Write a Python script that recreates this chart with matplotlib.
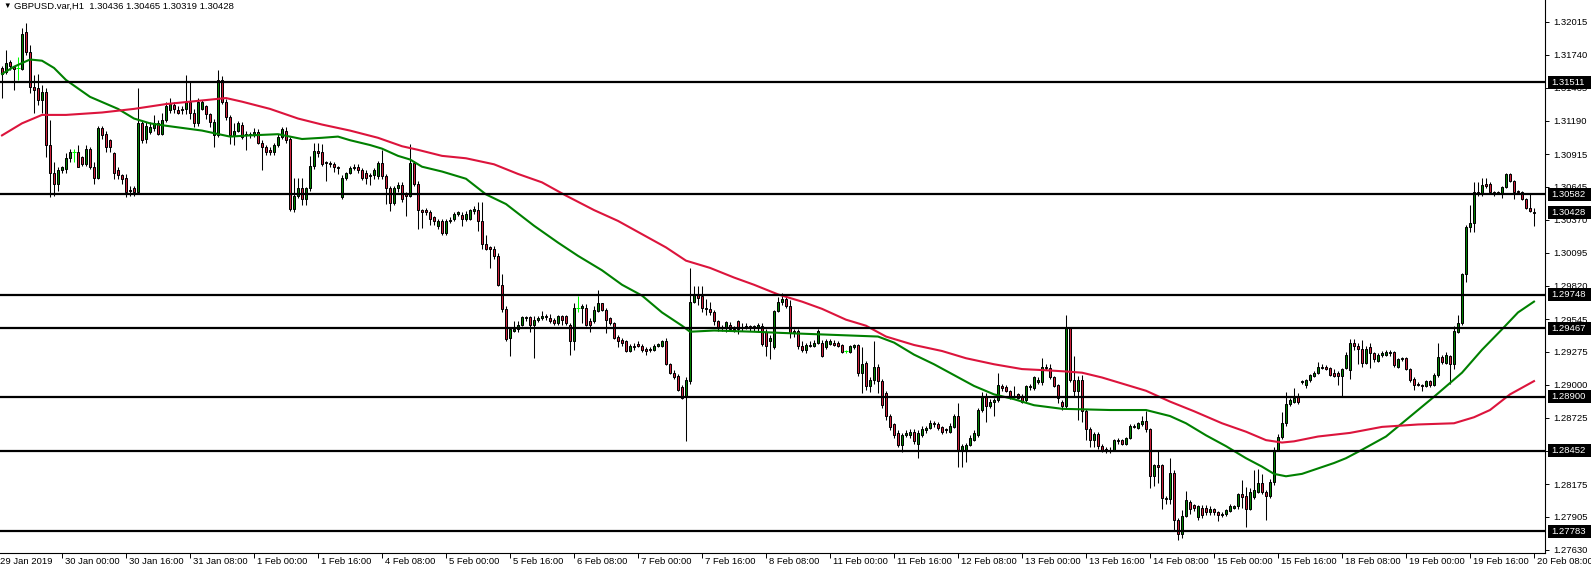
"""
GBPUSD H1 candles with two moving averages and horizontal levels (MT4 look).

python plot.py  ->  out.png
"""
import numpy as np
import matplotlib
matplotlib.use('Agg')
import matplotlib.pyplot as plt
from matplotlib import transforms
from matplotlib.patches import Rectangle

# prices in pips above 1.0000, i.e. price = 1 + p / 10000 (one row = 16 bars)
opens = [
    3163, 3160, 3168, 3164, 3163, 3162, 3193, 3176, 3147, 3146, 3136, 3143, 3099, 3076, 3067, 3078,
    3079, 3088, 3093, 3093, 3089, 3083, 3096, 3081, 3072, 3113, 3108, 3103, 3092, 3078, 3074, 3072,
    3062, 3063, 3060, 3117, 3104, 3110, 3113, 3117, 3108, 3120, 3128, 3132, 3128, 3128, 3129, 3135,
    3126, 3117, 3129, 3131, 3125, 3107, 3107, 3153, 3135, 3122, 3107, 3111, 3116, 3108, 3107, 3108,
    3110, 3101, 3097, 3095, 3093, 3099, 3106, 3111, 3104, 3046, 3057, 3063, 3054, 3063, 3082, 3094,
    3093, 3084, 3084, 3083, 3081, 3056, 3072, 3076, 3080, 3081, 3078, 3076, 3073, 3074, 3073, 3084,
    3073, 3063, 3051, 3063, 3066, 3058, 3057, 3084, 3067, 3045, 3045, 3043, 3039, 3032, 3036, 3026,
    3036, 3038, 3042, 3041, 3038, 3038, 3044, 3045, 3036, 3017, 3014, 3013, 3007, 2983, 2963, 2939,
    2945, 2946, 2950, 2955, 2956, 2950, 2954, 2955, 2957, 2955, 2954, 2951, 2957, 2957, 2950, 2936,
    2964, 2964, 2964, 2953, 2953, 2961, 2968, 2962, 2955, 2951, 2940, 2937, 2936, 2928, 2932, 2934,
    2932, 2930, 2929, 2929, 2932, 2932, 2936, 2917, 2910, 2907, 2898, 2890, 2903, 2969, 2975, 2974,
    2964, 2963, 2960, 2953, 2948, 2947, 2950, 2946, 2953, 2947, 2947, 2949, 2947, 2947, 2949, 2944,
    2936, 2931, 2961, 2969, 2971, 2965, 2943, 2945, 2932, 2929, 2933, 2932, 2935, 2935, 2931, 2934,
    2935, 2935, 2933, 2928, 2927, 2931, 2933, 2910, 2918, 2899, 2904, 2915, 2903, 2893, 2874, 2867,
    2860, 2850, 2858, 2858, 2861, 2851, 2858, 2862, 2864, 2868, 2867, 2865, 2862, 2861, 2865, 2874,
    2846, 2846, 2850, 2854, 2858, 2879, 2890, 2882, 2886, 2887, 2899, 2898, 2895, 2891, 2892, 2891,
    2887, 2898, 2897, 2902, 2902, 2915, 2914, 2906, 2900, 2886, 2882, 2947, 2904, 2895, 2904, 2878,
    2863, 2854, 2859, 2849, 2847, 2846, 2846, 2853, 2854, 2851, 2856, 2866, 2864, 2867, 2870, 2863,
    2824, 2833, 2833, 2806, 2805, 2827, 2788, 2776, 2791, 2803, 2800, 2790, 2798, 2798, 2794, 2797,
    2794, 2792, 2793, 2795, 2798, 2799, 2809, 2808, 2797, 2807, 2811, 2818, 2811, 2808, 2819, 2846,
    2857, 2868, 2884, 2886, 2890, 2902, 2900, 2904, 2907, 2910, 2914, 2915, 2914, 2910, 2910, 2907,
    2914, 2912, 2935, 2932, 2930, 2918, 2931, 2926, 2920, 2925, 2925, 2927, 2927, 2915, 2921, 2922,
    2913, 2905, 2900, 2900, 2899, 2903, 2900, 2908, 2923, 2918, 2924, 2917, 2944, 2951, 2992, 3031,
    3034, 3060, 3058, 3067, 3067, 3060, 3059, 3058, 3064, 3075, 3069, 3061, 3060, 3054, 3047, 3043.6,
]
highs = [
    3165, 3178, 3170, 3165, 3172, 3196, 3200, 3182, 3157, 3158, 3149, 3146, 3120, 3085, 3081, 3082,
    3092, 3096, 3096, 3099, 3090, 3099, 3097, 3085, 3115, 3115, 3111, 3104, 3093, 3081, 3075, 3075,
    3065, 3065, 3146, 3120, 3118, 3118, 3124, 3120, 3126, 3135, 3138, 3135, 3131, 3131, 3157, 3151,
    3129, 3138, 3136, 3132, 3126, 3121, 3161, 3156, 3137, 3124, 3117, 3119, 3118, 3111, 3110, 3113,
    3112, 3103, 3099, 3097, 3101, 3108, 3114, 3114, 3106, 3072, 3072, 3072, 3064, 3090, 3101, 3101,
    3100, 3086, 3086, 3085, 3082, 3074, 3077, 3082, 3083, 3083, 3080, 3078, 3076, 3080, 3086, 3095,
    3075, 3065, 3065, 3068, 3068, 3060, 3100, 3086, 3069, 3046, 3047, 3045, 3040, 3038, 3038, 3038,
    3039, 3043, 3044, 3043, 3044, 3046, 3048, 3052, 3052, 3024, 3015, 3015, 3009, 2992, 2965, 2948,
    2953, 2953, 2957, 2957, 2957, 2957, 2957, 2961, 2959, 2959, 2955, 2958, 2958, 2958, 2951, 2968,
    2974, 2967, 2967, 2955, 2965, 2979, 2968, 2964, 2956, 2952, 2941, 2939, 2937, 2934, 2935, 2936,
    2934, 2931, 2931, 2934, 2935, 2937, 2939, 2918, 2912, 2909, 2900, 2906, 2997, 2982, 2982, 2982,
    2971, 2969, 2962, 2954, 2950, 2953, 2952, 2949, 2954, 2951, 2951, 2950, 2950, 2951, 2951, 2946,
    2941, 2962, 2973, 2976, 2974, 2970, 2946, 2946, 2936, 2935, 2936, 2937, 2946, 2937, 2938, 2938,
    2937, 2936, 2934, 2929, 2933, 2934, 2934, 2931, 2920, 2906, 2936, 2917, 2905, 2895, 2876, 2868,
    2862, 2860, 2862, 2863, 2863, 2862, 2866, 2866, 2871, 2870, 2869, 2866, 2864, 2868, 2876, 2885,
    2851, 2852, 2858, 2862, 2881, 2894, 2893, 2888, 2889, 2910, 2901, 2900, 2896, 2899, 2893, 2892,
    2900, 2901, 2907, 2906, 2922, 2917, 2917, 2907, 2901, 2887, 2958, 2948, 2924, 2907, 2908, 2880,
    2865, 2861, 2861, 2851, 2848, 2848, 2855, 2856, 2855, 2857, 2867, 2867, 2869, 2874, 2878, 2864,
    2834, 2846, 2834, 2808, 2839, 2829, 2789, 2796, 2812, 2804, 2801, 2800, 2800, 2800, 2799, 2798,
    2795, 2794, 2797, 2801, 2800, 2810, 2821, 2815, 2814, 2829, 2830, 2826, 2813, 2822, 2848, 2859,
    2877, 2894, 2889, 2897, 2893, 2904, 2905, 2909, 2911, 2919, 2917, 2916, 2915, 2913, 2911, 2914,
    2927, 2938, 2938, 2935, 2937, 2932, 2935, 2927, 2926, 2928, 2929, 2929, 2928, 2922, 2923, 2923,
    2914, 2906, 2902, 2901, 2904, 2904, 2910, 2935, 2925, 2927, 2925, 2949, 2958, 2993, 3033, 3049,
    3068, 3068, 3072, 3072, 3068, 3061, 3061, 3065, 3076, 3076, 3070, 3062, 3061, 3055, 3058, 3046.5,
]
lows = [
    3138, 3158, 3161, 3145, 3153, 3161, 3174, 3142, 3126, 3132, 3126, 3089, 3056, 3057, 3061, 3076,
    3076, 3085, 3085, 3081, 3082, 3082, 3079, 3067, 3071, 3104, 3093, 3093, 3071, 3071, 3067, 3056,
    3057, 3057, 3058, 3101, 3101, 3108, 3111, 3107, 3107, 3118, 3126, 3126, 3125, 3125, 3125, 3121,
    3114, 3115, 3128, 3121, 3114, 3097, 3106, 3133, 3120, 3100, 3099, 3110, 3104, 3095, 3105, 3106,
    3100, 3078, 3091, 3091, 3091, 3097, 3104, 3101, 3044, 3043, 3055, 3049, 3049, 3061, 3079, 3089,
    3082, 3069, 3081, 3077, 3075, 3054, 3070, 3075, 3078, 3076, 3070, 3067, 3066, 3071, 3071, 3071,
    3050, 3044, 3049, 3060, 3052, 3040, 3056, 3065, 3029, 3030, 3041, 3033, 3033, 3029, 3024, 3024,
    3034, 3036, 3040, 3032, 3036, 3037, 3042, 3028, 3013, 3012, 2997, 3004, 2982, 2960, 2936, 2924,
    2944, 2944, 2949, 2953, 2944, 2922, 2952, 2954, 2954, 2951, 2950, 2950, 2950, 2950, 2925, 2929,
    2960, 2951, 2949, 2944, 2951, 2960, 2961, 2943, 2950, 2938, 2931, 2932, 2927, 2927, 2929, 2931,
    2927, 2925, 2927, 2928, 2931, 2931, 2916, 2909, 2905, 2895, 2888, 2853, 2901, 2968, 2966, 2960,
    2958, 2958, 2950, 2945, 2945, 2944, 2945, 2944, 2942, 2945, 2946, 2945, 2945, 2945, 2932, 2924,
    2921, 2930, 2960, 2966, 2964, 2939, 2940, 2930, 2927, 2926, 2931, 2931, 2934, 2923, 2930, 2933,
    2932, 2931, 2926, 2926, 2926, 2930, 2907, 2893, 2896, 2894, 2901, 2893, 2881, 2871, 2862, 2856,
    2848, 2844, 2857, 2856, 2851, 2839, 2857, 2860, 2863, 2865, 2862, 2859, 2860, 2860, 2864, 2832,
    2832, 2836, 2849, 2853, 2857, 2877, 2869, 2881, 2874, 2886, 2895, 2894, 2888, 2889, 2888, 2885,
    2886, 2896, 2896, 2901, 2900, 2912, 2905, 2898, 2885, 2879, 2880, 2902, 2890, 2871, 2869, 2854,
    2848, 2848, 2847, 2844, 2843, 2843, 2845, 2851, 2850, 2850, 2855, 2864, 2863, 2866, 2861, 2814,
    2816, 2818, 2797, 2801, 2801, 2779, 2771, 2773, 2790, 2793, 2795, 2788, 2789, 2792, 2792, 2792,
    2787, 2790, 2791, 2794, 2797, 2797, 2798, 2782, 2796, 2805, 2810, 2809, 2788, 2806, 2817, 2845,
    2855, 2866, 2882, 2885, 2884, 2901, 2897, 2902, 2906, 2909, 2913, 2912, 2907, 2906, 2900, 2890,
    2913, 2905, 2929, 2917, 2915, 2917, 2914, 2919, 2919, 2923, 2924, 2924, 2915, 2914, 2920, 2912,
    2902, 2896, 2899, 2895, 2898, 2898, 2899, 2906, 2917, 2917, 2901, 2913, 2943, 2950, 2985, 3027,
    3027, 3057, 3057, 3063, 3059, 3057, 3058, 3055, 3063, 3068, 3054, 3058, 3053, 3046, 3043, 3031.9,
]
closes = [
    3158, 3167, 3165, 3162, 3163, 3191, 3176, 3147, 3145, 3136, 3143, 3099, 3076, 3067, 3078, 3081,
    3088, 3093, 3093, 3081, 3083, 3096, 3081, 3072, 3113, 3107, 3097, 3097, 3076, 3074, 3071, 3060,
    3061, 3060, 3117, 3103, 3115, 3114, 3117, 3108, 3120, 3131, 3133, 3129, 3126, 3129, 3135, 3126,
    3117, 3135, 3135, 3125, 3118, 3118, 3153, 3135, 3122, 3107, 3111, 3117, 3106, 3107, 3108, 3110,
    3101, 3097, 3093, 3093, 3099, 3106, 3112, 3103, 3046, 3057, 3063, 3054, 3063, 3082, 3094, 3092,
    3083, 3085, 3083, 3081, 3080, 3072, 3076, 3080, 3081, 3078, 3072, 3072, 3074, 3078, 3084, 3073,
    3063, 3051, 3063, 3066, 3054, 3057, 3084, 3067, 3045, 3043, 3043, 3038, 3036, 3036, 3026, 3036,
    3037, 3042, 3043, 3038, 3042, 3045, 3046, 3036, 3017, 3013, 3013, 3007, 2983, 2963, 2938, 2946,
    2946, 2950, 2956, 2956, 2950, 2954, 2955, 2957, 2956, 2953, 2951, 2957, 2954, 2951, 2936, 2964,
    2964, 2965, 2950, 2950, 2962, 2968, 2962, 2954, 2951, 2939, 2936, 2935, 2928, 2932, 2931, 2932,
    2929, 2928, 2930, 2932, 2934, 2936, 2917, 2910, 2906, 2896, 2889, 2904, 2969, 2975, 2972, 2964,
    2963, 2960, 2953, 2947, 2947, 2952, 2946, 2945, 2946, 2948, 2949, 2947, 2949, 2950, 2934, 2932,
    2939, 2961, 2969, 2971, 2965, 2943, 2945, 2932, 2929, 2933, 2932, 2935, 2945, 2924, 2936, 2936,
    2933, 2932, 2927, 2928, 2932, 2933, 2910, 2917, 2899, 2904, 2915, 2903, 2883, 2874, 2865, 2858,
    2850, 2858, 2860, 2861, 2853, 2860, 2863, 2864, 2868, 2867, 2864, 2861, 2863, 2866, 2874, 2846,
    2849, 2850, 2856, 2860, 2879, 2890, 2882, 2886, 2887, 2900, 2897, 2895, 2889, 2890, 2889, 2886,
    2899, 2899, 2906, 2904, 2915, 2914, 2906, 2899, 2889, 2882, 2947, 2904, 2895, 2904, 2878, 2863,
    2854, 2859, 2849, 2846, 2845, 2845, 2854, 2854, 2851, 2856, 2866, 2865, 2868, 2870, 2863, 2824,
    2833, 2832, 2806, 2805, 2827, 2788, 2776, 2791, 2804, 2797, 2798, 2799, 2792, 2794, 2797, 2794,
    2792, 2793, 2796, 2799, 2799, 2809, 2807, 2797, 2811, 2813, 2818, 2811, 2808, 2819, 2846, 2857,
    2868, 2884, 2887, 2889, 2886, 2903, 2904, 2908, 2910, 2915, 2915, 2913, 2908, 2907, 2907, 2913,
    2925, 2935, 2932, 2930, 2918, 2930, 2926, 2921, 2925, 2926, 2927, 2926, 2916, 2921, 2922, 2913,
    2904, 2900, 2901, 2899, 2903, 2900, 2908, 2923, 2919, 2925, 2917, 2945, 2951, 2992, 3031, 3034,
    3060, 3058, 3066, 3065, 3060, 3058, 3060, 3064, 3075, 3069, 3060, 3060, 3054, 3047, 3044, 3042.8,
]

# moving averages at a few bars (same pip units)
fast_ma_bars = [0, 3, 7, 10, 13, 16, 22, 29, 33, 37, 41, 50, 57, 62, 69, 75, 80, 84, 87, 92,
                95, 99, 102, 105, 110, 116, 121, 126, 133, 139, 144, 150, 155, 160, 165, 170,
                172, 178, 188, 195, 203, 211, 219, 223, 228, 233, 238, 243, 248, 253, 258, 265,
                277, 286, 292, 296, 301, 306, 311, 315, 318, 321, 325, 333, 336, 340, 346, 350,
                358, 365, 370, 375, 379, 383]
fast_ma = [3158, 3164, 3170, 3169, 3163, 3153, 3139, 3129, 3121, 3117, 3115, 3111, 3106, 3107,
           3108, 3104, 3105, 3106, 3103, 3099, 3096, 3090, 3087, 3081, 3077, 3071, 3058, 3050,
           3032, 3018, 3007, 2995, 2983, 2974, 2960, 2949, 2944, 2945, 2944, 2943, 2942, 2941,
           2940, 2935, 2925, 2917, 2908, 2899, 2892, 2888, 2883, 2880, 2879, 2879, 2874, 2868,
           2858, 2849, 2839, 2832, 2826, 2824, 2826, 2835, 2839, 2846, 2857, 2868, 2890, 2910,
           2929, 2946, 2960, 2969]
slow_ma_bars = [0, 5, 10, 16, 25, 33, 41, 50, 56, 60, 67, 74, 80, 87, 94, 100, 104, 110, 116,
                123, 129, 135, 141, 148, 154, 160, 166, 171, 177, 183, 188, 194, 200, 205, 211,
                216, 221, 228, 235, 241, 248, 255, 261, 266, 270, 275, 281, 286, 292, 298, 305,
                311, 316, 320, 323, 329, 337, 345, 354, 363, 368, 372, 377, 383]
slow_ma = [3107, 3117, 3124, 3124, 3126, 3129, 3133, 3136, 3138, 3135, 3129, 3121, 3116, 3111,
           3105, 3098, 3095, 3090, 3088, 3083, 3075, 3068, 3057, 3045, 3036, 3025, 3014, 3003,
           2997, 2989, 2983, 2975, 2969, 2963, 2954, 2949, 2940, 2933, 2928, 2922, 2917, 2913,
           2912, 2911, 2910, 2906, 2900, 2895, 2886, 2878, 2868, 2861, 2854, 2852, 2853, 2857,
           2860, 2865, 2867, 2868, 2873, 2879, 2892, 2903]

levels = [1.31511, 1.30582, 1.29748, 1.29467, 1.28900, 1.28452, 1.27783]
last_price = 1.30428
price_ticks = [1.32015, 1.31740, 1.31465, 1.31190, 1.30915, 1.30645, 1.30370, 1.30095,
               1.29820, 1.29545, 1.29275, 1.29000, 1.28725, 1.28450, 1.28175, 1.27905, 1.27630]
first_label = '29 Jan 2019'
time_labels = ['30 Jan 00:00', '30 Jan 16:00', '31 Jan 08:00', '1 Feb 00:00', '1 Feb 16:00',
               '4 Feb 08:00', '5 Feb 00:00', '5 Feb 16:00', '6 Feb 08:00', '7 Feb 00:00',
               '7 Feb 16:00', '8 Feb 08:00', '11 Feb 00:00', '11 Feb 16:00', '12 Feb 08:00',
               '13 Feb 00:00', '13 Feb 16:00', '14 Feb 08:00', '15 Feb 00:00', '15 Feb 16:00',
               '18 Feb 08:00', '19 Feb 00:00', '19 Feb 16:00', '20 Feb 08:00']
title = 'GBPUSD.var,H1  1.30436 1.30465 1.30319 1.30428'

W, H = 1591, 570            # output size in px
PLOT_W, PLOT_H = 1545, 553  # chart area (px), price scale to the right
BULL, BEAR, DOJI = '#008000', '#cc1f3a', '#00ff00'
FAST_CLR, SLOW_CLR = '#008000', '#dc143c'
FS = 6.8


def to_price(p):
    return 1 + np.asarray(p, dtype=float) / 1e4


def draw_candles(ax):
    o, h, l, c = (to_price(a) for a in (opens, highs, lows, closes))
    assert len(o) == len(h) == len(l) == len(c)
    idx = np.arange(len(c))
    doji = o == c
    ax.vlines(idx, l, h, colors=np.where(doji, DOJI, 'black'), lw=0.75, zorder=2)
    body = ~doji
    ax.bar(idx[body], np.abs(c - o)[body], bottom=np.minimum(o, c)[body], width=0.5,
           color=np.where(c > o, BULL, BEAR)[body], edgecolor='black', linewidth=0.72,
           zorder=3)
    ax.hlines(c[doji], idx[doji] - 0.4, idx[doji] + 0.4, colors=DOJI, lw=0.75, zorder=3)
    return len(c)


def price_box(fig, ax, value):
    # black label on the price scale, drawn over the regular tick label
    trans = transforms.blended_transform_factory(fig.transFigure, ax.transData)
    half = 6.5 * (ax.get_ylim()[1] - ax.get_ylim()[0]) / PLOT_H
    ax.add_patch(Rectangle((1547.5 / W, value - half), 1 - 1547.5 / W, 2 * half,
                           transform=trans, facecolor='black', edgecolor='none',
                           clip_on=False, zorder=10))
    ax.text(1551 / W, value, f'{value:.5f}', transform=trans, color='white', fontsize=FS,
            ha='left', va='center', zorder=11, clip_on=False)


def main():
    plt.rcParams['font.family'] = ['Liberation Sans', 'DejaVu Sans']
    fig = plt.figure(figsize=(W / 100, H / 100), dpi=100)
    ax = fig.add_axes([0, (H - PLOT_H) / H, PLOT_W / W, PLOT_H / H])

    n_bars = draw_candles(ax)
    ax.plot(fast_ma_bars, to_price(fast_ma), color=FAST_CLR, lw=1.5, zorder=4)
    ax.plot(slow_ma_bars, to_price(slow_ma), color=SLOW_CLR, lw=1.5, zorder=4)
    for lv in levels:
        ax.axhline(lv, color='black', lw=1.6, zorder=5)

    # 4 px per bar, first bar 2 px from the left edge
    ax.set_xlim(-0.5, -0.5 + PLOT_W / 4)
    ax.set_ylim(1.27603, 1.32194)

    for side in ('top', 'left'):
        ax.spines[side].set_visible(False)
    for side in ('right', 'bottom'):
        ax.spines[side].set_linewidth(0.8)

    ax.yaxis.tick_right()
    ax.set_yticks(price_ticks)
    ax.set_yticklabels([f'{p:.5f}' for p in price_ticks])
    ax.tick_params(axis='y', length=3, width=0.7, pad=3, labelsize=FS)

    label_bars = list(range(15, n_bars, 16))[:len(time_labels)]
    ax.set_xticks(label_bars)
    ax.set_xticklabels([])
    ax.tick_params(axis='x', length=3.5, width=0.7)
    xtrans = transforms.blended_transform_factory(ax.transData, ax.transAxes)
    for b, lab in zip(label_bars, time_labels):
        ax.text(b + 0.8, -8.5 / PLOT_H, lab, transform=xtrans, fontsize=FS,
                ha='left', va='center', clip_on=False)
    ax.text(0, -8.5 / PLOT_H, first_label, transform=ax.transAxes, fontsize=FS,
            ha='left', va='center')

    for lv in levels + [last_price]:
        price_box(fig, ax, lv)

    fig.text(3 / W, 1 - 6.5 / H, '\u25bc', fontsize=5.5, va='center')
    fig.text(14 / W, 1 - 6.5 / H, title, fontsize=FS, va='center')

    fig.savefig('out.png', dpi=100, facecolor='white')


if __name__ == '__main__':
    main()
